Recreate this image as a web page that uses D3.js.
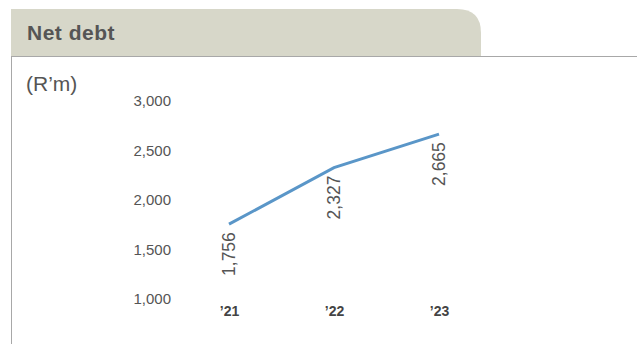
<!DOCTYPE html>
<html><head><meta charset="utf-8">
<script src="https://cdn.jsdelivr.net/npm/d3@7"></script>
<style>body{margin:0;background:#fff;} svg{display:block;font-family:"Liberation Sans",Arial,sans-serif;}</style>
</head><body>
<script>
const categories = ["’21", "’22", "’23"];
const values = [1756, 2327, 2665];
const yTicks = [1000, 1500, 2000, 2500, 3000];
const title = "Net debt";
const unit = "(R’m)";

const W = 637, H = 344;
const svg = d3.select("body").append("svg").attr("width", W).attr("height", H);

// header tab
const hx = 11, hy = 9, hw = 470, hh = 47, r = 24;
svg.append("path")
  .attr("d", `M${hx},${hy} H${hx+hw-r} Q${hx+hw},${hy} ${hx+hw},${hy+r} V${hy+hh} H${hx} Z`)
  .attr("fill", "#d7d7c9");
svg.append("text").attr("x", 27).attr("y", 40).text(title)
  .attr("font-size", 21).attr("font-weight", "bold").attr("fill", "#555")
  .attr("letter-spacing", 0.5);
svg.append("line").attr("x1", hx).attr("x2", W).attr("y1", 56.5).attr("y2", 56.5)
  .attr("stroke", "#a8a8a8").attr("stroke-width", 1);
svg.append("line").attr("x1", 11.5).attr("x2", 11.5).attr("y1", 56).attr("y2", H)
  .attr("stroke", "#a8a8a8").attr("stroke-width", 1);
svg.append("text").attr("x", 26).attr("y", 91).text(unit)
  .attr("font-size", 21).attr("fill", "#555");

const x = d3.scalePoint().domain(categories).range([229, 439]);
const y = d3.scaleLinear().domain([1000, 3000]).range([299, 101]);

const yAxis = svg.append("g").attr("transform", "translate(171,0)")
  .call(d3.axisLeft(y).tickValues(yTicks).tickSize(0).tickPadding(0).tickFormat(d3.format(",")));
yAxis.select(".domain").remove();
yAxis.selectAll("text").attr("font-size", 15).attr("fill", "#555").attr("font-family", "'Liberation Sans',Arial,sans-serif");

const xAxis = svg.append("g").attr("transform", "translate(0,306)")
  .call(d3.axisBottom(x).tickSize(0).tickPadding(0));
xAxis.select(".domain").remove();
xAxis.selectAll("text").attr("font-size", 14).attr("font-weight", "bold").attr("fill", "#444")
  .attr("font-family", "'Liberation Sans',Arial,sans-serif");

const data = categories.map((c, i) => ({c, v: values[i]}));
svg.append("path").datum(data)
  .attr("d", d3.line().x(d => x(d.c)).y(d => y(d.v)))
  .attr("fill", "none").attr("stroke", "#5a96c8").attr("stroke-width", 3);

svg.selectAll(".lbl").data(data).enter().append("text")
  .attr("transform", d => `translate(${x(d.c) + 5.5},${y(d.v) + 8}) rotate(-90)`)
  .attr("text-anchor", "end")
  .attr("font-size", 17.5).attr("fill", "#555")
  .text(d => d3.format(",")(d.v));
</script>
</body></html>
